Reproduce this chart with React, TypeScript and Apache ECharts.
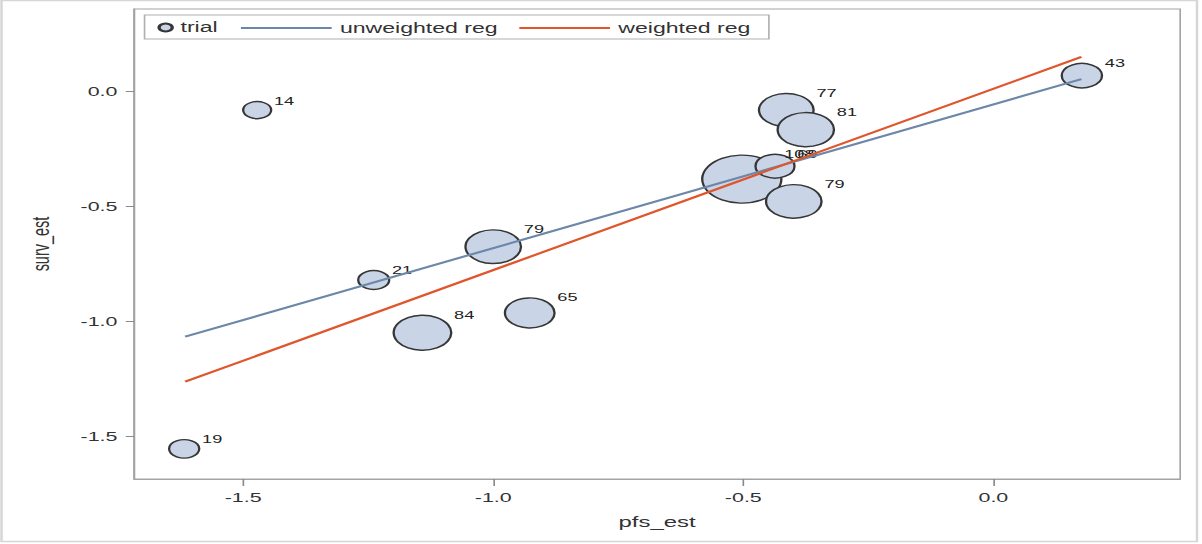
import React, { useEffect, useRef } from "react";
import * as echarts from "echarts";

// The reference image is horizontally stretched; we render a narrower chart and stretch it.
const SX = 1.65;
const PAGE_W = 1202;
const PAGE_H = 544;
const CHART_W = PAGE_W / SX;

// ---- data ----
const trialLabels = ["14", "19", "21", "84", "79", "65", "108", "69", "77", "81", "79", "43"];
const trialPfs = [-1.472, -1.618, -1.239, -1.1415, -1.0, -0.927, -0.503, -0.4366, -0.414, -0.375, -0.399, 0.177];
const trialSurv = [-0.08, -1.553, -0.819, -1.048, -0.674, -0.962, -0.38, -0.324, -0.08, -0.165, -0.477, 0.07];
const trialSize = [14, 19, 21, 84, 79, 65, 135, 40, 77, 81, 79, 43];

const regX = [-1.616, 0.176];
const unweightedY = [-1.065, 0.055];
const weightedY = [-1.261, 0.151];

const xRange = [-1.7183, 0.3736];
const yRange = [-1.684, 0.3596];

const FONT = "'Liberation Sans', Arial, sans-serif";
const TEXT = "#333333";
const FRAME = "#a3a3a3";
const TICK = "#8a8a8a";
const BLUE = "#6c87a8";
const RED = "#e0552b";

const sMin = Math.min(...trialSize);
const sMax = Math.max(...trialSize);
const D_MIN = 17;
const D_MAX = 48;
const diam = (s: number) => D_MIN + ((s - sMin) / (sMax - sMin)) * (D_MAX - D_MIN);

const fmt = (v: number) => (Math.abs(v) < 1e-9 ? "0.0" : v.toFixed(1));

export default function App() {
  const ref = useRef<HTMLDivElement>(null);

  useEffect(() => {
    const chart = echarts.init(ref.current!, null, { renderer: "svg" });
    const scatterData = trialPfs.map((x, i) => [x, trialSurv[i], trialSize[i], trialLabels[i]]);
    chart.setOption({
      animation: false,
      backgroundColor: "#ffffff",
      textStyle: { fontFamily: FONT },
      grid: {
        left: 134 / SX,
        right: CHART_W - 1181 / SX,
        top: 9,
        bottom: PAGE_H - 479,
        show: true,
        borderColor: FRAME,
        borderWidth: 1,
        backgroundColor: "transparent",
      },
      xAxis: {
        type: "value",
        min: xRange[0],
        max: xRange[1],
        splitNumber: 4,
        splitLine: { show: false },
        axisLine: { show: true, onZero: false, lineStyle: { color: FRAME, width: 1 } },
        axisTick: { show: true, inside: false, length: 7, lineStyle: { color: TICK, width: 1 } },
        axisLabel: {
          showMinLabel: false,
          showMaxLabel: false,
          formatter: fmt,
          fontSize: 13,
          color: TEXT,
          margin: 12,
          fontFamily: FONT,
        },
        name: "pfs_est",
        nameLocation: "middle",
        nameGap: 35,
        nameTextStyle: { fontSize: 14.5, color: TEXT, fontFamily: FONT },
      },
      yAxis: {
        type: "value",
        min: yRange[0],
        max: yRange[1],
        splitNumber: 4,
        splitLine: { show: false },
        axisLine: { show: true, onZero: false, lineStyle: { color: FRAME, width: 1 } },
        axisTick: { show: true, inside: false, length: 5, lineStyle: { color: TICK, width: 1 } },
        axisLabel: {
          showMinLabel: false,
          showMaxLabel: false,
          formatter: fmt,
          fontSize: 13,
          color: TEXT,
          margin: 10,
          fontFamily: FONT,
        },
        name: "surv_est",
        nameLocation: "middle",
        nameGap: 49,
        nameTextStyle: { fontSize: 14.5, color: TEXT, fontFamily: FONT },
      },
      legend: [
        {
          data: ["trial"],
          left: 95.4,
          top: 20.5,
          padding: 0,
          itemWidth: 8,
          itemHeight: 14,
          selectedMode: false,
          textStyle: { fontSize: 14, color: TEXT, fontFamily: FONT },
        },
        {
          data: [
            { name: "unweighted reg", icon: "rect", itemStyle: { color: BLUE, borderWidth: 0 } },
            { name: "weighted reg", icon: "rect", itemStyle: { color: RED, borderWidth: 0 } },
          ],
          left: 146,
          top: 21,
          padding: 0,
          itemWidth: 55,
          itemHeight: 2,
          itemGap: 13,
          selectedMode: false,
          itemStyle: { borderWidth: 0 },
          textStyle: { fontSize: 14, color: TEXT, fontFamily: FONT },
        },
      ],
      graphic: [
        {
          type: "rect",
          shape: { x: 87.6, y: 15, width: 378.4, height: 24 },
          style: { fill: "none", stroke: "#b0b0b0", lineWidth: 1 },
          silent: true,
        },
        {
          type: "rect",
          shape: { x: 1.5 / SX, y: 0.5, width: (1197 - 1.5) / SX, height: 541 },
          style: { fill: "none", stroke: "#d6d6d6", lineWidth: 1.5 },
          silent: true,
        },
      ],
      series: [
        {
          name: "trial",
          type: "scatter",
          data: scatterData,
          symbol: "circle",
          symbolSize: (v: any[]) => diam(v[2] as number),
          itemStyle: { color: "#c9d5e7", borderColor: "#363636", borderWidth: 1.4, opacity: 1 },
          label: {
            show: true,
            formatter: (p: any) => p.value[3],
            position: ["100%", "0%"],
            offset: [1, 0],
            align: "left",
            verticalAlign: "middle",
            fontSize: 11,
            color: "#222222",
            fontFamily: FONT,
          },
          emphasis: { disabled: true },
          z: 2,
        },
        {
          name: "unweighted reg",
          type: "line",
          data: regX.map((x, i) => [x, unweightedY[i]]),
          symbol: "none",
          lineStyle: { color: BLUE, width: 2 },
          itemStyle: { color: BLUE },
          emphasis: { disabled: true },
          z: 3,
        },
        {
          name: "weighted reg",
          type: "line",
          data: regX.map((x, i) => [x, weightedY[i]]),
          symbol: "none",
          lineStyle: { color: RED, width: 2 },
          itemStyle: { color: RED },
          emphasis: { disabled: true },
          z: 3,
        },
      ],
    });
    return () => chart.dispose();
  }, []);

  return (
    <div
      style={{
        position: "fixed",
        left: 0,
        top: 0,
        width: PAGE_W,
        height: PAGE_H,
        overflow: "hidden",
        background: "#ffffff",
      }}
    >
      <div
        ref={ref}
        style={{
          width: CHART_W,
          height: PAGE_H,
          transform: `scaleX(${SX})`,
          transformOrigin: "0 0",
        }}
      />
    </div>
  );
}
